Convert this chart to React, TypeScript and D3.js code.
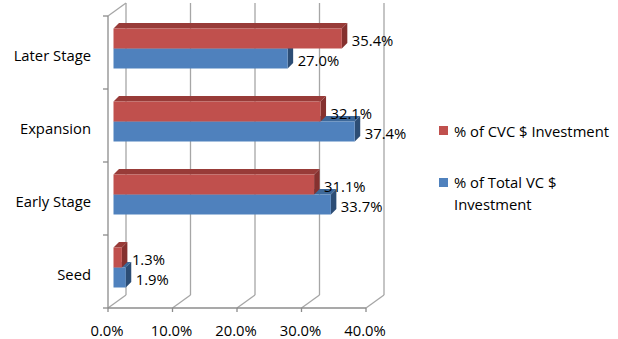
import React from "react";
import * as d3 from "d3";

const categories = ["Later Stage", "Expansion", "Early Stage", "Seed"];
const cvcValues = [35.4, 32.1, 31.1, 1.3];
const totalVcValues = [27.0, 37.4, 33.7, 1.9];
const xTicks = [0, 10, 20, 30, 40];
const seriesNames = ["% of CVC $ Investment", "% of Total VC $ Investment"];

const W = 618;
const H = 339;
const FONT = "'Open Sans', Lato, sans-serif";
const FS = 14.8;

export default function App() {
  const x = d3.scaleLinear().domain([0, 40]).range([108, 366]);
  const y = d3.scaleBand<string>().domain(categories).range([16, 308]);
  const depth = { dx: 18, dy: -13 };
  const barOff = { dx: 5.5, dy: -4 };
  const barDepth = { dx: 5.5, dy: -5.5 };
  const barH = 20;

  const series = [
    { name: seriesNames[1], values: totalVcValues, front: "#4F81BD", top: "#3D6899", side: "#2C4D75", slot: 1 },
    { name: seriesNames[0], values: cvcValues, front: "#C0504D", top: "#983B38", side: "#85312F", slot: 0 },
  ];

  const gridColor = "#A6A6A6";
  const axisColor = "#8C8C8C";
  const yTop = y.range()[0];
  const yBot = y.range()[1];
  const boundaries = categories.map((c) => y(c) as number).concat([yBot]);

  return (
    <svg width={W} height={H} style={{ position: "absolute", left: 0, top: 0, background: "#fff" }}>
      {xTicks.map((t) => (
        <line key={"g" + t} x1={x(t) + depth.dx} x2={x(t) + depth.dx} y1={yTop + depth.dy} y2={yBot + depth.dy} stroke={gridColor} strokeWidth={1.3} />
      ))}
      {xTicks.map((t) => (
        <line key={"f" + t} x1={x(t)} x2={x(t) + depth.dx} y1={yBot} y2={yBot + depth.dy} stroke={gridColor} strokeWidth={1.3} />
      ))}
      <line x1={x(0)} x2={x(0) + depth.dx} y1={yTop} y2={yTop + depth.dy} stroke={gridColor} strokeWidth={1.3} />
      <line x1={x(0)} x2={x(0)} y1={yTop} y2={yBot} stroke={axisColor} strokeWidth={1.3} />
      <line x1={x(0)} x2={x(40)} y1={yBot} y2={yBot} stroke={axisColor} strokeWidth={1.3} />
      {boundaries.map((b, i) => (
        <line key={"yt" + i} x1={x(0) - 5} x2={x(0)} y1={b} y2={b} stroke={axisColor} strokeWidth={1.3} />
      ))}
      {xTicks.map((t) => (
        <line key={"xt" + t} x1={x(t)} x2={x(t)} y1={yBot} y2={yBot + 4} stroke={axisColor} strokeWidth={1.3} />
      ))}

      {categories.map((c, ci) => {
        const center = (y(c) as number) + y.bandwidth() / 2;
        return (
          <g key={c}>
            {series.map((s) => {
              const v = s.values[ci];
              const x0 = x(0) + barOff.dx;
              const x1 = x(v) + barOff.dx;
              const yt = center + barOff.dy - barH + s.slot * barH;
              const yb = yt + barH;
              const ddx = barDepth.dx;
              const ddy = barDepth.dy;
              const topPts = [[x0, yt], [x1, yt], [x1 + ddx, yt + ddy], [x0 + ddx, yt + ddy]];
              const sidePts = [[x1, yt], [x1 + ddx, yt + ddy], [x1 + ddx, yb + ddy], [x1, yb]];
              return (
                <g key={s.name}>
                  <polygon points={topPts.map((p) => p.join(",")).join(" ")} fill={s.top} />
                  <polygon points={sidePts.map((p) => p.join(",")).join(" ")} fill={s.side} />
                  <rect x={x0} y={yt} width={x1 - x0} height={barH} fill={s.front} />
                </g>
              );
            })}
            {series.map((s) => {
              const v = s.values[ci];
              const yt = center + barOff.dy - barH + s.slot * barH;
              return (
                <text key={"l" + s.name} x={x(v) + barOff.dx + 10} y={yt + barH / 2 + 1} dominantBaseline="central" fontFamily={FONT} fontSize={FS} fill="#000">
                  {v.toFixed(1) + "%"}
                </text>
              );
            })}
            <text x={91} y={center + 2} textAnchor="end" dominantBaseline="central" fontFamily={FONT} fontSize={FS} fill="#000">
              {c}
            </text>
          </g>
        );
      })}

      {xTicks.map((t) => (
        <text key={"xl" + t} x={x(t) - 1} y={330} textAnchor="middle" dominantBaseline="central" fontFamily={FONT} fontSize={FS} fill="#000">
          {t.toFixed(1) + "%"}
        </text>
      ))}

      <rect x={439} y={126} width={9} height={9} fill="#C0504D" />
      <text x={454} y={131} dominantBaseline="central" fontFamily={FONT} fontSize={FS} fill="#000">
        {seriesNames[0]}
      </text>
      <rect x={439} y={178} width={9} height={9} fill="#4F81BD" />
      <text x={454} y={182} dominantBaseline="central" fontFamily={FONT} fontSize={FS} fill="#000">
        % of Total VC $
      </text>
      <text x={454} y={204} dominantBaseline="central" fontFamily={FONT} fontSize={FS} fill="#000">
        Investment
      </text>
    </svg>
  );
}
